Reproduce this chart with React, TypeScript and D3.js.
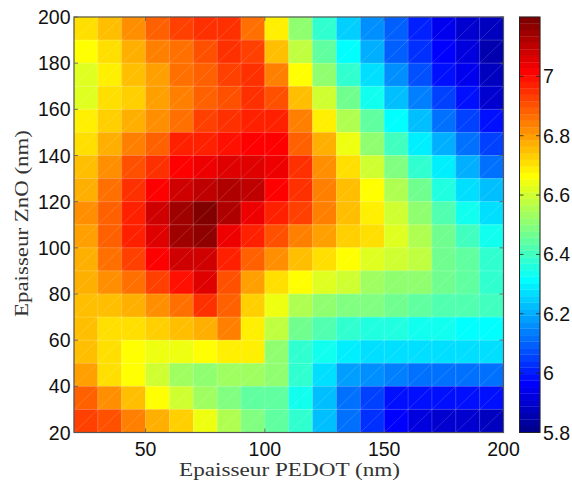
import React from "react";
import * as d3 from "d3";

const xEdges = [20,30,40,50,60,70,80,90,100,110,120,130,140,150,160,170,180,190,200];
const yEdges = [200,190,180,170,160,150,140,130,120,110,100,90,80,70,60,50,40,30,20];
const xTicks = [50,100,150,200];
const yTicks = [20,40,60,80,100,120,140,160,180,200];
const cbTicks = [5.8,6,6.2,6.4,6.6,6.8,7];
const xLabel = "Epaisseur PEDOT (nm)";
const yLabel = "Epaisseur ZnO (nm)";

// rows from the top (ZnO 190-200) to the bottom (ZnO 20-30)
const row01 = [6.71,6.76,6.82,6.89,6.92,6.95,6.95,6.86,6.68,6.50,6.38,6.25,6.17,6.09,6.01,5.95,5.90,5.87];
const row02 = [6.66,6.71,6.77,6.84,6.87,6.91,6.95,6.92,6.76,6.57,6.45,6.31,6.20,6.10,6.03,5.96,5.92,5.85];
const row03 = [6.63,6.68,6.75,6.80,6.87,6.89,6.92,6.95,6.84,6.66,6.50,6.38,6.27,6.16,6.07,5.99,5.95,5.88];
const row04 = [6.63,6.71,6.74,6.80,6.83,6.89,6.91,6.95,6.90,6.75,6.60,6.47,6.34,6.23,6.14,6.05,5.98,5.90];
const row05 = [6.68,6.72,6.77,6.81,6.87,6.92,6.95,6.97,6.98,6.84,6.69,6.56,6.44,6.31,6.23,6.12,6.05,5.98];
const row06 = [6.71,6.77,6.83,6.89,6.96,6.97,7.00,7.01,7.01,6.89,6.77,6.64,6.52,6.40,6.30,6.20,6.12,6.06];
const row07 = [6.75,6.81,6.90,6.95,7.01,7.03,7.06,7.05,7.03,6.94,6.82,6.71,6.60,6.49,6.38,6.29,6.21,6.12];
const row08 = [6.78,6.86,6.95,7.01,7.09,7.10,7.13,7.10,7.01,6.95,6.84,6.76,6.66,6.56,6.47,6.36,6.27,6.22];
const row09 = [6.81,6.88,6.97,7.07,7.14,7.18,7.13,7.03,6.98,6.92,6.84,6.76,6.69,6.60,6.50,6.42,6.34,6.27];
const row10 = [6.80,6.88,6.97,7.05,7.14,7.16,7.04,6.97,6.91,6.84,6.80,6.74,6.70,6.62,6.56,6.46,6.40,6.34];
const row11 = [6.78,6.86,6.93,7.01,7.09,7.08,6.97,6.88,6.81,6.76,6.71,6.66,6.63,6.60,6.57,6.47,6.45,6.38];
const row12 = [6.77,6.82,6.87,6.93,6.99,7.05,6.91,6.80,6.71,6.66,6.63,6.60,6.54,6.52,6.50,6.46,6.44,6.38];
const row13 = [6.76,6.75,6.77,6.81,6.87,6.94,6.88,6.74,6.64,6.55,6.50,6.49,6.48,6.46,6.45,6.43,6.42,6.40];
const row14 = [6.75,6.70,6.70,6.73,6.75,6.78,6.83,6.68,6.57,6.47,6.43,6.38,6.35,6.35,6.34,6.33,6.32,6.31];
const row15 = [6.75,6.70,6.66,6.64,6.64,6.66,6.69,6.69,6.52,6.38,6.33,6.30,6.26,6.26,6.26,6.26,6.26,6.26];
const row16 = [6.80,6.71,6.66,6.60,6.54,6.52,6.54,6.54,6.50,6.38,6.28,6.18,6.15,6.13,6.12,6.12,6.11,6.12];
const row17 = [6.88,6.81,6.75,6.66,6.60,6.53,6.48,6.45,6.44,6.34,6.22,6.12,6.05,5.99,5.98,5.99,5.99,5.98];
const row18 = [6.92,6.90,6.85,6.78,6.72,6.64,6.56,6.49,6.45,6.38,6.23,6.12,6.03,5.96,5.92,5.90,5.90,5.88];
const grid = [row01,row02,row03,row04,row05,row06,row07,row08,row09,row10,row11,row12,row13,row14,row15,row16,row17,row18];

const cMin = 5.8, cMax = 7.2, levels = 64;

// MATLAB's 64-level jet
function jet(i: number) {
  const t = (i + 1) / levels;
  const r = Math.max(0, Math.min(1, 1.5 - Math.abs(4 * t - 3)));
  const g = Math.max(0, Math.min(1, 1.5 - Math.abs(4 * t - 2)));
  const b = Math.max(0, Math.min(1, 1.5 - Math.abs(4 * t - 1)));
  return d3.rgb(r * 255, g * 255, b * 255).formatHex();
}
const jetColors = d3.range(levels).map(jet);
const color = d3.scaleQuantize<string>().domain([cMin, cMax]).range(jetColors);

const L = 74, R = 503.5, T = 17, B = 432.5;
const CL = 519.5, CR = 540;
const x = d3.scaleLinear().domain([20, 200]).range([L, R]);
const y = d3.scaleLinear().domain([20, 200]).range([B, T]);
const c = d3.scaleLinear().domain([cMin, cMax]).range([B, T]);

const tickFont = "'Liberation Sans', Arial, sans-serif";
const labelFont = "'Liberation Serif', serif";
const axisGrey = "#555";
const tickSize = 19.5;

export default function App() {
  return (
    <svg width={572} height={482} style={{ position: "absolute", left: 0, top: 0, background: "#fff" }}>
      {grid.map((row, i) =>
        row.map((v, j) => (
          <rect key={`${i}-${j}`} x={x(xEdges[j])} y={y(yEdges[i])}
            width={x(xEdges[j + 1]) - x(xEdges[j])} height={y(yEdges[i + 1]) - y(yEdges[i])}
            fill={color(v)} stroke={color(v)} strokeWidth={0.4} />
        ))
      )}
      {grid.map((row, i) =>
        row.map((_, j) => (
          <line key={`s${i}-${j}`} x1={x(xEdges[j])} y1={y(yEdges[i + 1])} x2={x(xEdges[j + 1])} y2={y(yEdges[i])}
            stroke="#fff" strokeWidth={0.5} strokeOpacity={0.3} />
        ))
      )}
      {xEdges.slice(1, -1).map((e) => (
        <line key={`vx${e}`} x1={x(e)} x2={x(e)} y1={T} y2={B} stroke="#fff" strokeOpacity={0.22} strokeWidth={0.8} />
      ))}
      {yEdges.slice(1, -1).map((e) => (
        <line key={`hy${e}`} x1={L} x2={R} y1={y(e)} y2={y(e)} stroke="#fff" strokeOpacity={0.22} strokeWidth={0.8} />
      ))}

      <rect x={L} y={T} width={R - L} height={B - T} fill="none" stroke={axisGrey} strokeWidth={1.2} />
      {xTicks.map((t) => (
        <g key={`xt${t}`}>
          <line x1={x(t)} x2={x(t)} y1={B} y2={B - 4} stroke={axisGrey} strokeWidth={0.8} />
          <line x1={x(t)} x2={x(t)} y1={T} y2={T + 4} stroke={axisGrey} strokeWidth={0.8} />
          <text x={x(t)} y={455.5} textAnchor="middle" fontFamily={tickFont} fontSize={tickSize} fill="#111">{t}</text>
        </g>
      ))}
      {yTicks.map((t) => (
        <g key={`yt${t}`}>
          <line x1={L} x2={L + 4} y1={y(t)} y2={y(t)} stroke={axisGrey} strokeWidth={0.8} />
          <line x1={R} x2={R - 4} y1={y(t)} y2={y(t)} stroke={axisGrey} strokeWidth={0.8} />
          <text x={70.5} y={y(t) + 7} textAnchor="end" fontFamily={tickFont} fontSize={tickSize} fill="#111">{t}</text>
        </g>
      ))}
      <text x={289.5} y={476} textAnchor="middle" fontFamily={labelFont} fontSize={18.5} fill="#333"
        textLength={221} lengthAdjust="spacingAndGlyphs">{xLabel}</text>
      <text transform={`translate(28,223.5) rotate(-90)`} textAnchor="middle" fontFamily={labelFont} fontSize={18.5} fill="#333"
        textLength={187} lengthAdjust="spacingAndGlyphs">{yLabel}</text>

      {jetColors.map((col, i) => {
        const v0 = cMin + ((cMax - cMin) * i) / levels;
        const v1 = cMin + ((cMax - cMin) * (i + 1)) / levels;
        return <rect key={`cb${i}`} x={CL} width={CR - CL} y={c(v1)} height={c(v0) - c(v1)} fill={col} stroke={col} strokeWidth={0.3} />;
      })}
      <rect x={CL} y={T} width={CR - CL} height={B - T} fill="none" stroke="#222" strokeWidth={1} />
      {cbTicks.map((t) => (
        <g key={`ct${t}`}>
          <line x1={CL} x2={CL + 4} y1={c(t)} y2={c(t)} stroke="#222" strokeWidth={0.8} />
          <line x1={CR} x2={CR - 4} y1={c(t)} y2={c(t)} stroke="#222" strokeWidth={0.8} />
          <text x={543} y={c(t) + 7} textAnchor="start" fontFamily={tickFont} fontSize={tickSize} fill="#111">{t}</text>
        </g>
      ))}
    </svg>
  );
}
